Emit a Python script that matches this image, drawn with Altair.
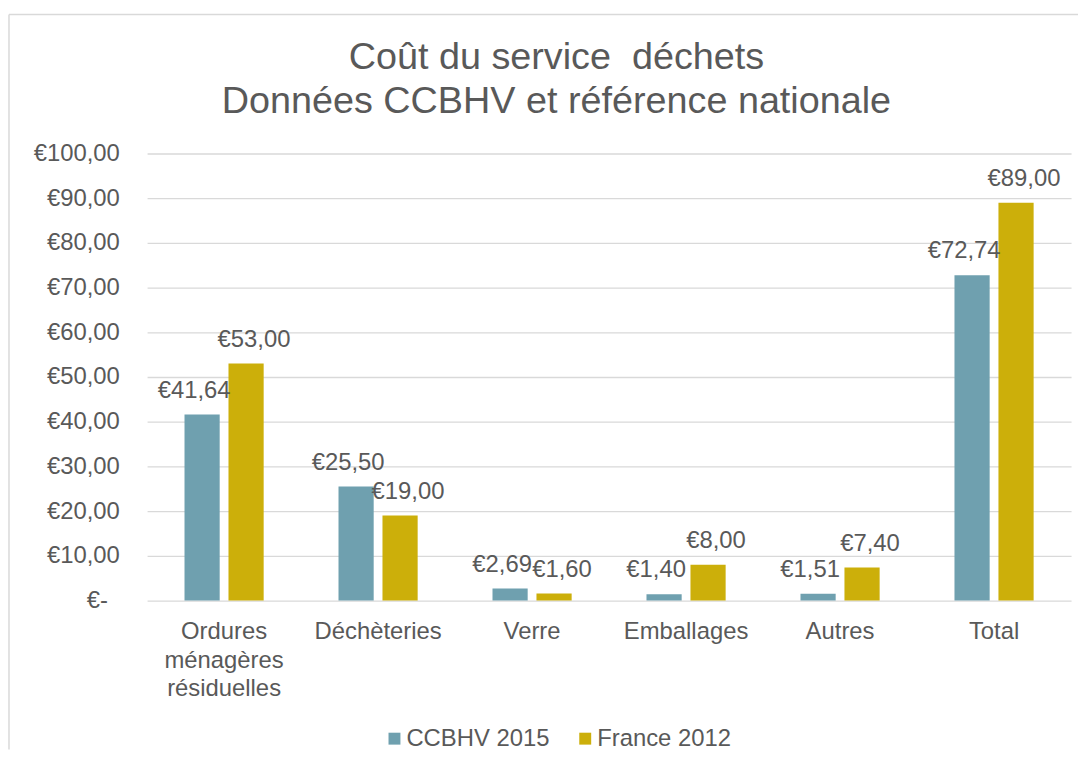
import altair as alt
import pandas as pd

categories = ["Ordures\nménagères\nrésiduelles", "Déchèteries", "Verre", "Emballages", "Autres", "Total"]
series = ["CCBHV 2015", "France 2012"]
ccbhv_2015 = [41.64, 25.50, 2.69, 1.40, 1.51, 72.74]
france_2012 = [53.00, 19.00, 1.60, 8.00, 7.40, 89.00]
y_ticks = [0, 10, 20, 30, 40, 50, 60, 70, 80, 90, 100]
colors = ["#6FA0AF", "#CCAF0A"]
title_lines = ["Coût du service \u00a0déchets", "Données CCBHV et référence nationale"]

rows = []
for c, a, b in zip(categories, ccbhv_2015, france_2012):
    rows.append({"cat": c, "serie": series[0], "value": a})
    rows.append({"cat": c, "serie": series[1], "value": b})
df = pd.DataFrame(rows)

FONT = "Liberation Sans"
GREY = "#595959"
GRID = "#D9D9D9"

euro_expr = "'€' + replace(format(datum.value, '.2f'), '.', ',')"

x_enc = alt.X(
    "cat:N", sort=categories, title=None,
    scale=alt.Scale(paddingInner=0.486, paddingOuter=0.243),
    axis=alt.Axis(labelExpr="split(datum.label, '\\n')", labelLineHeight=29,
                  labelPadding=19, labelAngle=0, labelBaseline="top", grid=False),
)
xoff_enc = alt.XOffset("serie:N", sort=series, scale=alt.Scale(paddingInner=0.2, paddingOuter=0))
y_enc = alt.Y(
    "value:Q", title=None, scale=alt.Scale(domain=[0, 100]),
    axis=alt.Axis(values=y_ticks, grid=True, gridColor=GRID, gridWidth=1.3, labelPadding=28,
                  labelExpr="datum.value == 0 ? '€-\u2002\u2060' : '€' + replace(format(datum.value, '.2f'), '.', ',')"),
)

base = alt.Chart(df).encode(x=x_enc, xOffset=xoff_enc, y=y_enc)

bars = base.mark_bar().encode(
    color=alt.Color(
        "serie:N", sort=series,
        scale=alt.Scale(domain=series, range=colors),
        legend=alt.Legend(orient="none", legendX=237, legendY=577, direction="horizontal",
                          title=None, symbolType="square", symbolSize=144, symbolStrokeWidth=0,
                          labelFontSize=24, labelFont=FONT, labelColor=GREY,
                          columnPadding=23, labelOffset=0),
    )
)

def labels(serie, dx):
    return base.mark_text(dx=dx, dy=-17, baseline="alphabetic", fontSize=24, font=FONT, color=GREY).transform_filter(
        alt.datum.serie == serie
    ).transform_calculate(label=euro_expr).encode(text="label:N")

frame_src = pd.DataFrame({"a": [0]})
top_line = alt.Chart(frame_src).mark_rule(color=GRID, strokeWidth=1.5).encode(
    x=alt.value(-139), x2=alt.value(937), y=alt.value(-140))
left_line = alt.Chart(frame_src).mark_rule(color=GRID, strokeWidth=1.5).encode(
    x=alt.value(-139), y=alt.value(-140), y2=alt.value(600))

chart = alt.layer(top_line, left_line, bars, labels(series[0], -8), labels(series[1], 8)).properties(
    width=930, height=450,
    title=alt.TitleParams(title_lines, fontSize=38, font=FONT, color=GREY, fontWeight="normal",
                          lineHeight=44, anchor="middle", frame="group", dx=-53, offset=-108),
    autosize=alt.AutoSizeParams(type="none"),
    padding={"left": 140, "top": 144, "right": 8, "bottom": 151},
).configure_axis(
    labelFont=FONT, labelFontSize=24, labelColor=GREY, ticks=False, domain=False
).configure_view(strokeWidth=0)

chart.save("out.html", embed_options={"renderer": "svg", "actions": False})
